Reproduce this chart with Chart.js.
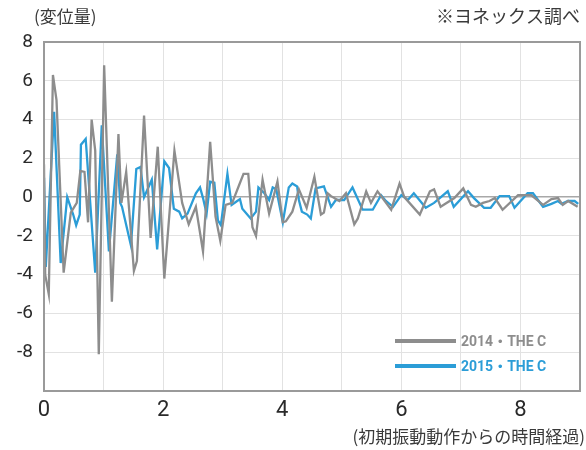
<!DOCTYPE html>
<html>
<head>
<meta charset="utf-8">
<script src="https://cdn.jsdelivr.net/npm/chart.js@4"></script>
<style>
  body { margin: 0; background: #fff; }
  #wrap { width: 586px; height: 450px; position: relative; }
</style>
</head>
<body>
<div id="wrap"><canvas id="vibrationChart"></canvas></div>
<script>
// time (x) and displacement (y)
const t2014 = [0, 0.02, 0.08, 0.15, 0.21, 0.33, 0.45, 0.55, 0.61, 0.68, 0.74, 0.80, 0.86, 0.92, 1.01,
    1.14, 1.25, 1.30, 1.38, 1.51, 1.56, 1.68, 1.79, 1.91, 2.02, 2.19, 2.32, 2.43, 2.55, 2.67,
    2.79, 2.88, 2.96, 3.05, 3.16, 3.28, 3.35, 3.43, 3.50, 3.56, 3.67, 3.78, 3.92, 4.01, 4.06,
    4.17, 4.28, 4.41, 4.54, 4.65, 4.70, 4.76, 4.82, 4.96, 5.07, 5.21, 5.27, 5.41, 5.49, 5.60,
    5.83, 5.97, 6.05, 6.31, 6.48, 6.55, 6.66, 6.89, 7.04, 7.17, 7.25, 7.37, 7.48, 7.57, 7.70,
    7.96, 8.04, 8.18, 8.38, 8.52, 8.63, 8.71, 8.80, 8.96];
const v2014 = [1.7, -4.0, -5.0, 6.3, 5.0, -3.9, -0.8, -0.3, 1.35, 1.3, -1.3, 4.0, 2.4, -8.1, 6.8,
    -5.4, 3.25, -0.3, 1.3, -3.8, -3.3, 4.2, -2.1, 2.6, -4.2, 2.4, -0.3, -1.4, -0.5, -2.8,
    2.85, -1.0, -2.25, -0.4, -0.3, 0.65, 1.2, 1.2, -1.55, -2.0, 0.9, -0.85, 0.8, -1.3, -1.25,
    -0.75, 0.4, -0.55, 1.05, -0.9, -0.8, 0.2, 0.05, -0.2, 0.2, -1.4, -1.1, 0.3, -0.3, 0.3,
    -0.65, 0.7, 0.0, -0.9, 0.3, 0.4, -0.5, -0.05, 0.45, -0.4, -0.5, -0.3, -0.2, -0.05, -0.65,
    0.1, 0.1, 0.1, -0.4, -0.1, -0.05, -0.4, -0.2, -0.5];

const t2015 = [0, 0.03, 0.17, 0.28, 0.39, 0.49, 0.54, 0.60, 0.62, 0.70, 0.86, 0.97, 1.09, 1.23, 1.28,
    1.31, 1.46, 1.55, 1.62, 1.68, 1.81, 1.90, 2.02, 2.10, 2.18, 2.27, 2.32, 2.41, 2.55, 2.62,
    2.67, 2.73, 2.79, 2.86, 2.92, 2.97, 3.08, 3.15, 3.22, 3.29, 3.33, 3.47, 3.56, 3.60, 3.70,
    3.78, 3.84, 3.90, 4.01, 4.11, 4.17, 4.25, 4.28, 4.33, 4.42, 4.48, 4.56, 4.70, 4.82, 4.90,
    5.04, 5.18, 5.35, 5.52, 5.66, 5.74, 5.86, 6.00, 6.11, 6.21, 6.41, 6.55, 6.78, 6.88, 7.12,
    7.22, 7.39, 7.50, 7.65, 7.81, 7.90, 8.12, 8.21, 8.38, 8.52, 8.63, 8.69, 8.80, 8.91, 8.97];
const v2015 = [1.0, -3.6, 4.4, -3.4, 0.0, -0.9, -1.45, -0.9, 2.7, 3.0, -3.9, 3.7, -2.8, 2.2, -0.3,
    -0.5, -2.5, 1.45, 1.55, 0.0, 0.9, -2.7, 1.85, 1.5, -0.6, -0.75, -1.1, -0.85, 0.2, 0.5,
    -0.05, -0.85, 0.8, 0.75, -1.2, -1.45, 1.2, -0.4, -0.25, -0.1, -0.6, -1.1, -0.75, 0.5, 0.2,
    -0.15, 0.5, 0.4, -1.3, 0.5, 0.7, 0.55, -0.15, -0.75, -0.9, -1.1, 0.45, 0.55, -0.5, -0.15,
    -0.15, 0.5, -0.65, -0.65, 0.1, -0.2, -0.5, 0.1, -0.15, 0.2, -0.55, -0.3, 0.3, -0.5, 0.3,
    -0.05, -0.55, -0.55, 0.05, 0.05, -0.55, 0.2, 0.2, -0.5, -0.35, -0.2, -0.35, -0.2, -0.2, -0.35];

const seriesLabels = ['2014・THE C', '2015・THE C'];
const seriesColors = ['#8d8d8d', '#2b9dd7'];
const xTickLabels = [0, 2, 4, 6, 8];
const yTickLabels = [8, 6, 4, 2, 0, -2, -4, -6, -8];

const toPoints = (ts, vs) => ts.map((t, i) => ({ x: t, y: vs[i] }));

const jpFont = '"Noto Sans CJK JP", sans-serif';

const extras = {
    id: 'extras',
    afterDraw(chart) {
        const ctx = chart.ctx;
        const a = chart.chartArea;
        ctx.save();
        // plot frame
        ctx.strokeStyle = '#9a9a9a';
        ctx.lineWidth = 2;
        ctx.strokeRect(a.left, a.top, a.right - a.left, a.bottom - a.top);

        // headings
        ctx.fillStyle = '#3a3a3a';
        ctx.textBaseline = 'middle';
        ctx.font = '17px ' + jpFont;
        ctx.textAlign = 'left';
        ctx.fillText('(変位量)', 34, 17);
        ctx.textAlign = 'right';
        ctx.font = '18px ' + jpFont;
        ctx.fillText('※ヨネックス調べ', 580, 16);
        ctx.font = '17px ' + jpFont;
        ctx.fillText('(初期振動動作からの時間経過)', 585, 437);

        // legend inside plot
        const rows = [341, 366];
        chart.data.datasets.forEach((ds, i) => {
            ctx.strokeStyle = ds.borderColor;
            ctx.lineWidth = 4;
            ctx.beginPath();
            ctx.moveTo(395, rows[i]);
            ctx.lineTo(456, rows[i]);
            ctx.stroke();
            ctx.fillStyle = ds.borderColor;
            ctx.textAlign = 'left';
            ctx.font = 'bold 14px Roboto, ' + jpFont;
            ctx.fillText(ds.label, 461, rows[i] + 1);
        });
        ctx.restore();
    }
};

new Chart(document.getElementById('vibrationChart'), {
    type: 'scatter',
    data: {
        datasets: [
            {
                label: seriesLabels[0],
                data: toPoints(t2014, v2014),
                borderColor: seriesColors[0],
                backgroundColor: seriesColors[0],
                showLine: true,
                borderWidth: 2.3,
                pointRadius: 0,
                tension: 0
            },
            {
                label: seriesLabels[1],
                data: toPoints(t2015, v2015),
                borderColor: seriesColors[1],
                backgroundColor: seriesColors[1],
                showLine: true,
                borderWidth: 2.3,
                pointRadius: 0,
                tension: 0
            }
        ]
    },
    options: {
        responsive: true,
        maintainAspectRatio: false,
        animation: false,
        layout: { padding: { top: 42, right: 6, left: 0, bottom: 0 } },
        plugins: {
            legend: { display: false },
            tooltip: { enabled: false }
        },
        scales: {
            x: {
                type: 'linear',
                min: 0,
                max: 9,
                afterFit: s => { s.height = 59; },
                border: { display: false },
                grid: { color: '#e2e2e2', lineWidth: 1, drawTicks: false },
                ticks: {
                    stepSize: 1,
                    padding: 6,
                    color: '#2a2a2a',
                    font: { family: '"Liberation Sans Narrow", Roboto', size: 22 },
                    maxRotation: 0,
                    callback: v => xTickLabels.includes(v) ? String(v) : ''
                }
            },
            y: {
                min: -10,
                max: 8,
                afterFit: s => { s.width = 44; },
                border: { display: false },
                grid: {
                    color: c => c.tick && c.tick.value === 0 ? '#a8a8a8' : '#e2e2e2',
                    lineWidth: c => c.tick && c.tick.value === 0 ? 1.5 : 1,
                    drawTicks: false
                },
                ticks: {
                    stepSize: 2,
                    padding: 11,
                    color: '#2a2a2a',
                    font: { family: 'Roboto', size: 19 },
                    callback: v => yTickLabels.includes(v) ? String(v) : ''
                }
            }
        }
    },
    plugins: [extras]
});
</script>
</body>
</html>
